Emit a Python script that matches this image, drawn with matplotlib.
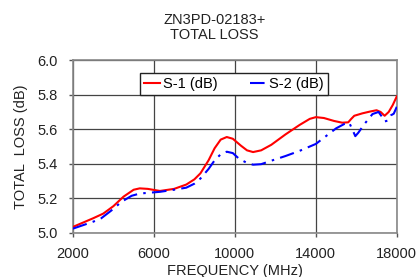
import matplotlib
matplotlib.use("Agg")
import matplotlib.pyplot as plt

plt.rcParams['font.family'] = ['Liberation Sans', 'DejaVu Sans']

title = "ZN3PD-02183+\nTOTAL LOSS"
xlabel = "FREQUENCY (MHz)"
ylabel = "TOTAL  LOSS (dB)"
xticks = [2000, 6000, 10000, 14000, 18000]
yticks = [5.0, 5.2, 5.4, 5.6, 5.8, 6.0]

freq_s1 = [2000, 2500, 3000, 3500, 4000, 4500, 5000, 5300, 5700, 6300, 7000, 7600, 8000,
           8300, 8700, 9000, 9300, 9600, 9900, 10300, 10600, 10900, 11300, 11800, 12500,
           13200, 13700, 14000, 14400, 14900, 15300, 15600, 15750, 15900, 16300, 16700,
           17000, 17200, 17400, 17600, 17800, 18000]
s1 = [5.035, 5.060, 5.085, 5.112, 5.155, 5.210, 5.250, 5.258, 5.255, 5.243, 5.255, 5.280,
      5.310, 5.345, 5.420, 5.490, 5.540, 5.555, 5.545, 5.505, 5.478, 5.468, 5.478, 5.510,
      5.570, 5.625, 5.660, 5.670, 5.665, 5.648, 5.638, 5.640, 5.660, 5.678, 5.692, 5.703,
      5.710, 5.700, 5.678, 5.700, 5.740, 5.790]

freq_s2 = [2000, 2500, 3000, 3400, 3900, 4400, 4900, 5300, 5800, 6300, 7000, 7600, 8000,
           8300, 8700, 9000, 9300, 9600, 9900, 10200, 10600, 10900, 11300, 11800, 12500,
           13200, 13700, 14000, 14500, 15000, 15400, 15650, 15800, 15950, 16100, 16400,
           16800, 17100, 17250, 17400, 17550, 17700, 17850, 18000]
s2 = [5.025, 5.045, 5.065, 5.085, 5.130, 5.180, 5.215, 5.228, 5.233, 5.238, 5.250, 5.262,
      5.285, 5.315, 5.370, 5.420, 5.455, 5.470, 5.462, 5.430, 5.405, 5.395, 5.398, 5.418,
      5.445, 5.475, 5.500, 5.515, 5.560, 5.605, 5.630, 5.638, 5.600, 5.560, 5.580, 5.630,
      5.688, 5.700, 5.675, 5.645, 5.650, 5.680, 5.690, 5.730]

fig = plt.figure(figsize=(4.19, 2.77), dpi=100)
ax = fig.add_axes([0.174, 0.159, 0.773, 0.624])

ax.plot(freq_s1, s1, color='#ff0000', lw=1.5, label='S-1 (dB)', zorder=3)
ax.plot(freq_s2, s2, color='#0000ff', lw=1.5, dashes=(7, 3, 1.2, 3), label='S-2 (dB)', zorder=3)

ax.set_xlim(2000, 18000)
ax.set_ylim(5.0, 6.0)
ax.set_xticks(xticks)
ax.set_xticklabels([str(v) for v in xticks])
ax.set_yticks(yticks)
ax.set_yticklabels([f"{v:.1f}" for v in yticks])
ax.grid(True, color='#444444', lw=0.9)
ax.set_axisbelow(True)
for s in ax.spines.values():
    s.set_color('#888888')
    s.set_linewidth(1.2)
ax.tick_params(axis='y', length=3, width=1, color='#555555', labelsize=10.5, labelcolor='#222222', pad=8)
ax.tick_params(axis='x', length=3, width=1, color='#555555', labelsize=10.5, labelcolor='#222222', pad=7)

ax.set_xlabel(xlabel, fontsize=10.5, color='#222222', labelpad=2)
ax.set_ylabel(ylabel, fontsize=10.5, color='#222222', labelpad=7)
fig.text(0.512, 0.952, title, ha='center', va='top', fontsize=10.5, color='#222222', linespacing=1.1)

leg = ax.legend(loc='upper center', bbox_to_anchor=(0.497, 0.97), ncol=2, fontsize=10.5,
                frameon=True, fancybox=False, framealpha=1, edgecolor='#222222',
                handlelength=1.1, handletextpad=0.2, columnspacing=2.2, borderpad=0.3)
leg.get_frame().set_linewidth(1.0)

fig.savefig('out.png', dpi=100)
